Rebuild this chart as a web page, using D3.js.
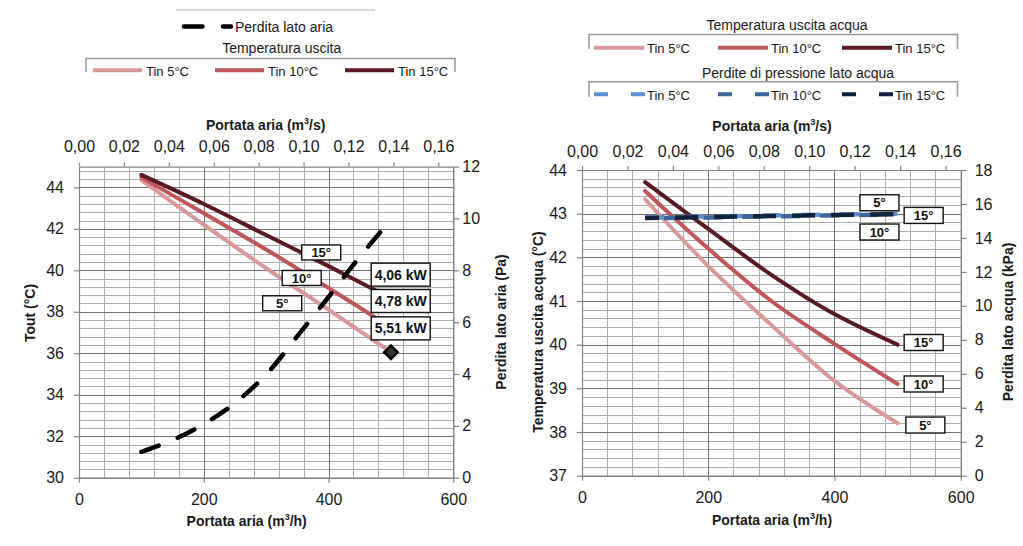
<!DOCTYPE html>
<html><head><meta charset="utf-8">
<script src="https://cdn.jsdelivr.net/npm/d3@7"></script>
<style>body{margin:0;background:#fff}svg{display:block}</style>
</head><body><svg id="c" width="1023" height="546"></svg>
<script>
// ---------- DATA ----------
const flowM3h = [100, 200, 300, 400, 500];
const airToutTin5  = [44.35, 42.2, 40.1, 38.1, 36.05];
const airToutTin10 = [44.48, 42.75, 41.0, 39.15, 37.25];
const airToutTin15 = [44.6, 43.2, 41.7, 40.2, 38.65];
const airDropFlow = [100, 150, 200, 250, 300, 350, 400, 450, 500];
const airDropPa   = [1.0, 1.45, 2.07, 2.88, 3.98, 5.46, 6.97, 8.52, 9.95];
const airEndMarker = [{flow: 500, tout: 36.05}];
const waterToutTin5  = [43.33, 41.8, 40.45, 39.17, 38.2];
const waterToutTin10 = [43.52, 42.2, 41.0, 40.02, 39.1];
const waterToutTin15 = [43.72, 42.65, 41.6, 40.7, 40.0];
const waterDropTin5  = [15.2, 15.26, 15.32, 15.38, 15.43];
const waterDropTin10 = [15.15, 15.21, 15.27, 15.33, 15.38];
const waterDropTin15 = [15.17, 15.23, 15.29, 15.35, 15.40];
const seriesNames = ['Tin 5°C', 'Tin 10°C', 'Tin 15°C'];
const flowTicksH = [0, 200, 400, 600];
const flowTicksS = [0, 0.02, 0.04, 0.06, 0.08, 0.10, 0.12, 0.14, 0.16];
const leftToutTicks = [30, 32, 34, 36, 38, 40, 42, 44];
const leftDropTicks = [0, 2, 4, 6, 8, 10, 12];
const rightToutTicks = [37, 38, 39, 40, 41, 42, 43, 44];
const rightDropTicks = [0, 2, 4, 6, 8, 10, 12, 14, 16, 18];
const airCapacityLabels = ['4,06 kW', '4,78 kW', '5,51 kW'];
const tinLabels = ['5°', '10°', '15°'];

// ---------- STYLE ----------
const FONT = '"Liberation Sans", Arial, sans-serif';
const redCols = ['#d9999b', '#c0565a', '#5a1a22'];
const blueCols = ['#5b8fd4', '#3b679c', '#0f233f'];
const minorCol = '#adadad', majorCol = '#717171', axisCol = '#858585';

const svg = d3.select('#c').attr('font-family', FONT);
svg.append('rect').attr('width', 1023).attr('height', 546).attr('fill', '#fff');

function frame(cfg) {
  const g = svg.append('g');
  const x = d3.scaleLinear().domain([0, 600]).range([cfg.x0, cfg.x1]);
  const xs = d3.scaleLinear().domain([0, 600 / 3600]).range([cfg.x0, cfg.x1]);
  const y = d3.scaleLinear().domain(cfg.yDom).range([cfg.yBot, cfg.yTop]);
  const y2 = d3.scaleLinear().domain(cfg.y2Dom).range([cfg.yBot, cfg.yTop]);
  const n = Math.floor((cfg.yDom[1] - cfg.yDom[0]) / cfg.yMinor + 1e-9);
  const minorY = d3.range(n + 1).map(i => cfg.yDom[0] + i * cfg.yMinor);
  const minorX = d3.range(0, 601, 40);
  const px = v => Math.round(v) + 0.5;
  const grid = g.append('g').attr('shape-rendering', 'crispEdges');
  grid.selectAll('.hy').data(minorY).join('line')
    .attr('x1', cfg.x0).attr('x2', cfg.x1).attr('y1', d => px(y(d))).attr('y2', d => px(y(d)))
    .attr('stroke', minorCol);
  grid.selectAll('.vx').data(minorX).join('line')
    .attr('y1', cfg.yTop).attr('y2', cfg.yBot).attr('x1', d => px(x(d))).attr('x2', d => px(x(d)))
    .attr('stroke', minorCol);
  grid.selectAll('.hM').data(cfg.yTicks).join('line')
    .attr('x1', cfg.x0).attr('x2', cfg.x1).attr('y1', d => px(y(d))).attr('y2', d => px(y(d)))
    .attr('stroke', majorCol);
  grid.selectAll('.vM').data(flowTicksH).join('line')
    .attr('y1', cfg.yTop).attr('y2', cfg.yBot).attr('x1', d => px(x(d))).attr('x2', d => px(x(d)))
    .attr('stroke', majorCol);

  const style = sel => {
    sel.attr('font-size', 16).attr('font-family', FONT);
    sel.selectAll('path,line').attr('stroke', axisCol).attr('stroke-width', 1.2);
    sel.selectAll('text').attr('fill', '#1a1a1a');
  };
  const intFmt = d3.format('d');
  g.append('g').attr('transform', `translate(${cfg.x0},0)`)
    .call(d3.axisLeft(y).tickValues(cfg.yTicks).tickFormat(intFmt).tickSize(5).tickPadding(10).tickSizeOuter(0)).call(style);
  g.append('g').attr('transform', `translate(${cfg.x1},0)`)
    .call(d3.axisRight(y2).tickValues(cfg.y2Ticks).tickFormat(intFmt).tickSize(6).tickPadding(cfg.rPad).tickSizeOuter(0)).call(style);
  g.append('g').attr('transform', `translate(0,${cfg.yBot})`)
    .call(d3.axisBottom(x).tickValues(flowTicksH).tickFormat(intFmt).tickSize(5).tickPadding(cfg.bPad).tickSizeOuter(0)).call(style);
  g.append('g').attr('transform', `translate(0,${cfg.yTop})`)
    .call(d3.axisTop(xs).tickValues(flowTicksS).tickSize(4).tickPadding(cfg.tPad).tickSizeOuter(0)
      .tickFormat(d => d3.format('.2f')(d).replace('.', ','))).call(style);

  const title = (tx, ty, rot) => {
    const t = g.append('text').attr('font-weight', 'bold').attr('font-size', 14).attr('fill', '#1a1a1a')
      .attr('text-anchor', 'middle');
    if (rot) t.attr('transform', `translate(${tx},${ty}) rotate(-90)`);
    else t.attr('x', tx).attr('y', ty);
    return t;
  };
  const sup = (t, a, b) => { t.append('tspan').text(a); t.append('tspan').attr('font-size', 9).attr('dy', -6).text('3'); t.append('tspan').attr('dy', 6).text(b); };
  sup(title(cfg.topTitle[0], cfg.topTitle[1], false), 'Portata aria (m', '/s)');
  sup(title(cfg.botTitle[0], cfg.botTitle[1], false), 'Portata aria (m', '/h)');
  title(cfg.leftTitle[0], cfg.leftTitle[1], true).text(cfg.leftText);
  title(cfg.rightTitle[0], cfg.rightTitle[1], true).text(cfg.rightText);
  return {g, x, y, y2};
}

function labelBox(g, cx, cy, w, h, text, fs) {
  g.append('rect').attr('x', cx - w / 2).attr('y', cy - h / 2).attr('width', w).attr('height', h)
    .attr('fill', '#fff').attr('stroke', '#111').attr('stroke-width', 1.4);
  g.append('text').attr('x', cx).attr('y', cy).attr('dy', '0.36em').attr('text-anchor', 'middle')
    .attr('font-weight', 'bold').attr('font-size', fs).attr('fill', '#111').text(text);
}

// ---------- LEFT CHART ----------
const L = frame({x0: 79, x1: 453.3, yTop: 166.6, yBot: 477.7, yDom: [30, 45], yMinor: 0.4, yTicks: leftToutTicks,
  y2Dom: [0, 12], y2Ticks: leftDropTicks, rPad: 3, bPad: 10.6, tPad: 11,
  topTitle: [265.7, 130], botTitle: [246.7, 526], leftTitle: [35, 313], rightTitle: [505.5, 322],
  leftText: 'Tout (°C)', rightText: 'Perdita lato aria (Pa)'});
const curve = d3.curveCatmullRom.alpha(0.5);
[airToutTin5, airToutTin10, airToutTin15].forEach((s, k) => {
  L.g.append('path').datum(s)
    .attr('d', d3.line().x((d, i) => L.x(flowM3h[i])).y(d => L.y(d)).curve(curve))
    .attr('fill', 'none').attr('stroke', redCols[k]).attr('stroke-width', 4).attr('stroke-linecap', 'round');
});
L.g.append('path').datum(airDropPa)
  .attr('d', d3.line().x((d, i) => L.x(airDropFlow[i])).y(d => L.y2(d)).curve(curve))
  .attr('fill', 'none').attr('stroke', '#000').attr('stroke-width', 4.5)
  .attr('stroke-dasharray', '18.5,20.5').attr('stroke-linecap', 'round');
L.g.selectAll('.mk').data(airEndMarker).join('path')
  .attr('transform', d => `translate(${L.x(d.flow)},${L.y(d.tout)}) rotate(45)`)
  .attr('d', d3.symbol(d3.symbolSquare, 90)).attr('fill', '#333').attr('stroke', '#000').attr('stroke-width', 2.5);
const leftTinPos = [[325.7, 38.41], [357, 39.63], [388.3, 40.86]];
tinLabels.forEach((t, k) => labelBox(L.g, L.x(leftTinPos[k][0]), L.y(leftTinPos[k][1]), 39, 15, t, 13));
const leftKwPos = [[515.7, 39.79], [515.7, 38.52], [515.7, 37.2]];
airCapacityLabels.forEach((t, k) => labelBox(L.g, L.x(leftKwPos[k][0]), L.y(leftKwPos[k][1]), 59, 23, t, 14));

// ---------- RIGHT CHART ----------
const R = frame({x0: 582, x1: 960.7, yTop: 170, yBot: 475.7, yDom: [37, 44], yMinor: 0.2, yTicks: rightToutTicks,
  y2Dom: [0, 18], y2Ticks: rightDropTicks, rPad: 8, bPad: 11, tPad: 9.5,
  topTitle: [772, 131], botTitle: [772, 525], leftTitle: [543, 332], rightTitle: [1013, 322],
  leftText: 'Temperatura uscita acqua (°C)', rightText: 'Perdita lato acqua (kPa)'});
[waterToutTin5, waterToutTin10, waterToutTin15].forEach((s, k) => {
  R.g.append('path').datum(s)
    .attr('d', d3.line().x((d, i) => R.x(flowM3h[i])).y(d => R.y(d)).curve(curve))
    .attr('fill', 'none').attr('stroke', redCols[k]).attr('stroke-width', 4).attr('stroke-linecap', 'round');
});
const waterDash = [['19,20', 0], ['19,20', -19], ['23,16', -30]];
[waterDropTin5, waterDropTin10, waterDropTin15].forEach((s, k) => {
  R.g.append('path').datum(s)
    .attr('d', d3.line().x((d, i) => R.x(flowM3h[i])).y(d => R.y2(d)).curve(curve))
    .attr('fill', 'none').attr('stroke', blueCols[k]).attr('stroke-width', 4.5)
    .attr('stroke-dasharray', waterDash[k][0]).attr('stroke-dashoffset', waterDash[k][1]);
});
const rightTopPos = [[471.3, 43.25], [471.3, 42.58], [541.3, 42.96]];
tinLabels.forEach((t, k) => labelBox(R.g, R.x(rightTopPos[k][0]), R.y(rightTopPos[k][1]), 39, 16, t, 13));
const rightEndPos = [[544, 38.16], [541.3, 39.1], [541.3, 40.05]];
tinLabels.forEach((t, k) => labelBox(R.g, R.x(rightEndPos[k][0]), R.y(rightEndPos[k][1]), 39, 16, t, 13));

// ---------- LEGENDS ----------
const lg = svg.append('g').attr('fill', '#1a1a1a');
const bracket = (x0, x1, yT, yB) => lg.append('path')
  .attr('d', `M${x0},${yB}V${yT}H${x1}V${yB}`).attr('fill', 'none').attr('stroke', '#9a9a9a').attr('stroke-width', 1.5);
const ltext = (x, y, t, fs, anchor) => lg.append('text').attr('x', x).attr('y', y).attr('font-size', fs)
  .attr('text-anchor', anchor || 'start').text(t);
// left legend
lg.append('line').attr('x1', 176).attr('x2', 375).attr('y1', 10).attr('y2', 10).attr('stroke', '#dcdcdc').attr('stroke-width', 2);
lg.append('path').attr('d', 'M184,26.5H231').attr('stroke', '#000').attr('stroke-width', 4.5)
  .attr('stroke-dasharray', '18.5,20.5').attr('stroke-linecap', 'round');
ltext(235, 31.5, 'Perdita lato aria', 14);
ltext(281.7, 53, 'Temperatura uscita', 14, 'middle');
bracket(86, 455, 58.5, 72);
const leftItemX = [93, 215, 345];
seriesNames.forEach((s, k) => {
  lg.append('line').attr('x1', leftItemX[k]).attr('x2', leftItemX[k] + 49).attr('y1', 70.3).attr('y2', 70.3)
    .attr('stroke', redCols[k]).attr('stroke-width', 4);
  ltext(leftItemX[k] + 53, 76, s, 13);
});
// right legend
ltext(787, 30, 'Temperatura uscita acqua', 14, 'middle');
bracket(589, 957.5, 34.5, 49);
const rightItemX = [594, 718, 842];
seriesNames.forEach((s, k) => {
  lg.append('line').attr('x1', rightItemX[k]).attr('x2', rightItemX[k] + 50).attr('y1', 47.7).attr('y2', 47.7)
    .attr('stroke', redCols[k]).attr('stroke-width', 4);
  ltext(rightItemX[k] + 53, 53.3, s, 13);
});
ltext(798, 78, 'Perdite di pressione lato acqua', 14, 'middle');
bracket(589, 957.5, 81.7, 96.7);
seriesNames.forEach((s, k) => {
  lg.append('path').attr('d', `M${rightItemX[k]},94.3h51`).attr('stroke', blueCols[k]).attr('stroke-width', 4)
    .attr('stroke-dasharray', '14,23');
  ltext(rightItemX[k] + 53, 100, s, 13);
});
</script></body></html>
